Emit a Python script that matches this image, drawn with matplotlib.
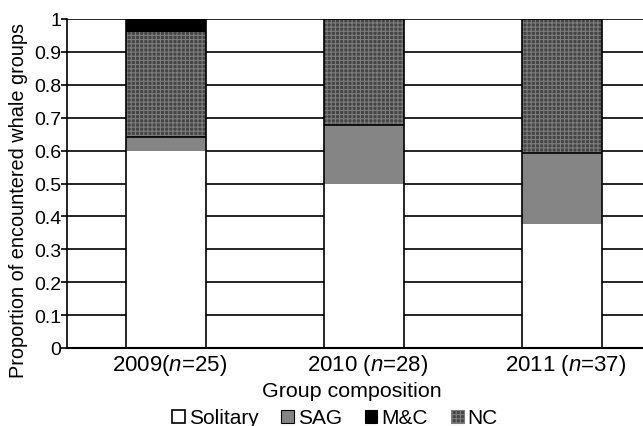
import matplotlib.pyplot as plt
import numpy as np

plt.rcParams['font.family'] = ['Liberation Sans', 'DejaVu Sans']
plt.rcParams['mathtext.fontset'] = 'custom'
plt.rcParams['mathtext.it'] = 'Liberation Sans:italic'
plt.rcParams['mathtext.rm'] = 'Liberation Sans'
plt.rcParams['hatch.linewidth'] = 0.8

years = ['2009', '2010', '2011']
tick_labels = [r'2009($\it{n}$=25)', r'2010 ($\it{n}$=28)', r'2011 ($\it{n}$=37)']
solitary = [0.60, 0.50, 0.378]
sag = [0.04, 0.179, 0.216]
mc = [0.04, 0.0, 0.0]
nc = [0.32, 0.321, 0.405]

fig = plt.figure(figsize=(6.43, 4.27), dpi=100)
ax = fig.add_axes([67/643, 78/427, 594/643, 329/427])

x = np.arange(len(years))
w = 0.4

# gridlines behind bars
ax.set_axisbelow(True)
ax.yaxis.grid(True, color='black', linewidth=1.2)

sol = np.array(solitary)
s = np.array(sag)
n = np.array(nc)
ax.bar(x, sol, w, color='white', linewidth=0, zorder=2)
ax.bar(x, s, w, bottom=sol, color='#858585', linewidth=0, zorder=2)
ax.bar(x, n, w, bottom=sol + s, facecolor='#454545', edgecolor='#7d7d7d',
       hatch='++++', linewidth=0, zorder=2)
ax.bar(x, mc, w, bottom=sol + s + n, color='black', linewidth=0, zorder=2)

# outlines
ax.bar(x, sol + s + n + np.array(mc), w, fill=False, edgecolor='black', linewidth=1.2, zorder=3)
ax.hlines(sol + s, x - w/2, x + w/2, color='black', linewidth=1.2, zorder=3)

ax.set_xlim(-0.5, 2.5)
ax.set_ylim(0, 1)
ax.set_yticks(np.arange(0, 1.01, 0.1))
ax.set_yticklabels(['0', '0.1', '0.2', '0.3', '0.4', '0.5', '0.6', '0.7', '0.8', '0.9', '1'])
ax.tick_params(axis='y', labelsize=14, length=4, width=1.2, pad=0)

ax.set_xticks(x + 0.02)
ax.set_xticklabels(tick_labels, fontsize=16)
ax.tick_params(axis='x', length=0, pad=3)

for sp in ['top', 'right']:
    ax.spines[sp].set_visible(False)
ax.spines['left'].set_linewidth(1.2)
ax.spines['bottom'].set_linewidth(1.5)

fig.text(19/643, 1 - 200/427, 'Proportion of encountered whale groups', rotation=90,
         ha='center', va='center', fontsize=14.3)
fig.text(352/643, 1 - 392/427, 'Group composition', ha='center', va='center', fontsize=15.4)

handles = [
    plt.Rectangle((0, 0), 1, 1, facecolor='white', edgecolor='black', linewidth=1.2),
    plt.Rectangle((0, 0), 1, 1, facecolor='#858585', edgecolor='black', linewidth=0.8),
    plt.Rectangle((0, 0), 1, 1, facecolor='black', edgecolor='black', linewidth=0.8),
    plt.Rectangle((0, 0), 1, 1, facecolor='#454545', edgecolor='#7d7d7d', hatch='++++', linewidth=0.8),
]
fig.legend(handles, ['Solitary', 'SAG', 'M&C', 'NC'], loc='center', ncol=4,
           bbox_to_anchor=(335/643, 1 - 419/427), frameon=False, fontsize=15,
           handlelength=0.6, handleheight=0.6, handletextpad=0.2, columnspacing=1.1,
           borderpad=0)

fig.savefig('out.png', dpi=100)
